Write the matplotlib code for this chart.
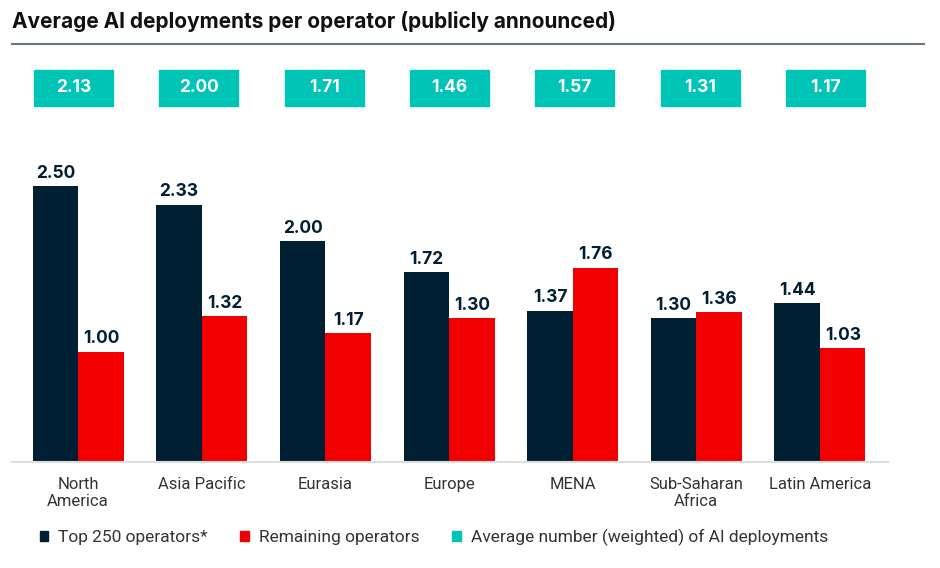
import numpy as np
import matplotlib.pyplot as plt
from matplotlib.patches import Rectangle

regions = ['North\nAmerica', 'Asia Pacific', 'Eurasia', 'Europe', 'MENA',
           'Sub-Saharan\nAfrica', 'Latin America']
top250 = [2.50, 2.33, 2.00, 1.72, 1.37, 1.30, 1.44]
remaining = [1.00, 1.32, 1.17, 1.30, 1.76, 1.36, 1.03]
weighted_avg = [2.13, 2.00, 1.71, 1.46, 1.57, 1.31, 1.17]

navy = '#001f33'
red = '#f00000'
teal = '#00c4b6'
text_grey = '#333333'

plt.rcParams['font.family'] = ['Inter', 'DejaVu Sans']

fig = plt.figure(figsize=(9.4, 5.68), dpi=100)
W, H = 940, 568
# axes: x from 12px to 888px, baseline at y=462px, top at y=150px
ax = fig.add_axes([12 / W, (H - 462) / H, 876 / W, 312 / H])

x = np.arange(len(regions))
w = 0.368
ax.bar(x - w / 2, top250, w, color=navy, label='Top 250 operators*')
ax.bar(x + w / 2, remaining, w, color=red, label='Remaining operators')

for xi, v in zip(x, top250):
    ax.text(xi - w / 2, v + 0.075, f'{v:.2f}', ha='center', va='baseline',
            fontsize=12.5, fontweight='bold', color=navy)
for xi, v in zip(x, remaining):
    ax.text(xi + w / 2, v + 0.075, f'{v:.2f}', ha='center', va='baseline',
            fontsize=12.5, fontweight='bold', color=navy)

ax.set_xlim(-0.535, 6.55)
ax.set_ylim(0, 312 / 110.4)
ax.set_yticks([])
ax.set_xticks(x)
ax.set_xticklabels(regions, fontsize=12, color=text_grey, family=['Roboto', 'DejaVu Sans'],
                   linespacing=1.15)
ax.tick_params(axis='x', length=0, pad=11)
for s in ['top', 'right', 'left']:
    ax.spines[s].set_visible(False)
ax.spines['bottom'].set_color('#dddddd')
ax.spines['bottom'].set_linewidth(1.5)

# weighted average boxes above the bars
box_left, box_step, box_w = 34, 125.3, 79
for i, v in enumerate(weighted_avg):
    x0 = box_left + i * box_step
    fig.add_artist(Rectangle((x0 / W, (H - 106) / H), box_w / W, 36 / H,
                             transform=fig.transFigure, color=teal))
    fig.text((x0 + box_w / 2) / W, (H - 88) / H, f'{v:.2f}', ha='center', va='center',
             fontsize=12.5, fontweight='bold', color='white')

# title and rule
fig.text(12 / W, (H - 21) / H, 'Average AI deployments per operator (publicly announced)',
         fontsize=15, fontweight='bold', color='#111111', va='center')
fig.add_artist(plt.Line2D([12 / W, 924 / W], [(H - 44) / H] * 2, color='#6b7780', lw=1.5))

# legend
handles = [Rectangle((0, 0), 1, 1, color=c) for c in (navy, red, teal)]
labels = ['Top 250 operators*', 'Remaining operators',
          'Average number (weighted) of AI deployments']
fig.legend(handles, labels, loc='center left', bbox_to_anchor=(24 / W, (H - 537) / H),
           ncol=3, frameon=False, handlelength=0.5, handleheight=0.5, handletextpad=0.55,
           columnspacing=1.9, prop={'family': ['Roboto', 'DejaVu Sans'], 'size': 12.5},
           labelcolor=text_grey)

fig.savefig('out.png', dpi=100)
